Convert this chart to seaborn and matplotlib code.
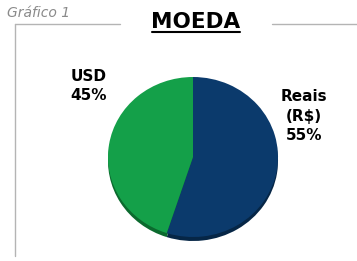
import matplotlib
matplotlib.use("Agg")
import matplotlib.pyplot as plt
import seaborn as sns
from matplotlib.lines import Line2D

# data
labels = ["Reais\n(R$)", "USD"]
shares = [55, 45]
colors = ["#0b3a6c", "#14a049"]
rim_colors = ["#062646", "#0b6a2e"]

sns.set_theme(style="white")
plt.rcParams['font.family'] = ['DejaVu Sans']

W, H = 357, 261
fig = plt.figure(figsize=(W / 100, H / 100), dpi=100)
fig.patch.set_facecolor("white")

# pie axes: y range stretched so the pie comes out slightly flattened
sy = 85 / 80
ax = fig.add_axes([0, 0, 1, 1])
cx, cy = 193, (H - 157) * sy
ax.pie(shares, colors=rim_colors, startangle=90, counterclock=False,
       center=(cx, cy - 4 * sy), radius=85, wedgeprops=dict(linewidth=0))
ax.pie(shares, colors=colors, startangle=90, counterclock=False,
       center=(cx, cy), radius=85, wedgeprops=dict(linewidth=0))
ax.set_xlim(0, W)
ax.set_ylim(0, H * sy)
ax.set_aspect("auto")
ax.axis("off")

def fx(x):
    return x / W

def fy(y):
    return 1 - y / H

# labels with percentages
fig.text(fx(89), fy(86), f"{labels[1]}\n{shares[1]}%", ha="center", va="center",
         fontsize=11, fontweight="bold", color="black", linespacing=1.4)
fig.text(fx(304), fy(116), f"{labels[0]}\n{shares[0]}%", ha="center", va="center",
         fontsize=11, fontweight="bold", color="black", linespacing=1.4)

# title and caption
fig.text(fx(196), fy(28.5), "MOEDA", ha="center", va="baseline",
         fontsize=15.5, fontweight="bold", color="black")
fig.add_artist(Line2D([fx(152), fx(240)], [fy(32), fy(32)], color="black", lw=1.5))
fig.text(fx(7), fy(17), "Gráfico 1", ha="left", va="baseline",
         fontsize=10, style="italic", color="#8a8a8a")

# frame lines
gray = "#b4b4b4"
fig.add_artist(Line2D([fx(15), fx(120)], [fy(24), fy(24)], color=gray, lw=1))
fig.add_artist(Line2D([fx(272), fx(357)], [fy(24), fy(24)], color=gray, lw=1))
fig.add_artist(Line2D([fx(15), fx(15)], [fy(24), fy(256)], color=gray, lw=1))

fig.savefig("out.png", dpi=100)
